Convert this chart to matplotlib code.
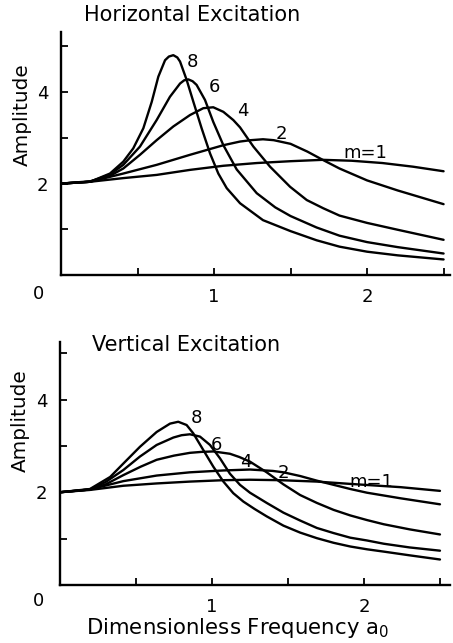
import matplotlib
matplotlib.use("Agg")
import matplotlib.pyplot as plt

# ---------------- data ----------------
# Horizontal excitation: amplitude vs dimensionless frequency a0, for m = 1, 2, 4, 6, 8
h_x1 = [0, 0.19, 0.407, 0.625, 0.843, 1.061, 1.28, 1.5, 1.71, 1.9, 2.1, 2.3, 2.5]
h_y1 = [2.0, 2.04, 2.12, 2.19, 2.30, 2.39, 2.45, 2.49, 2.52, 2.50, 2.45, 2.37, 2.27]

h_x2 = [0, 0.19, 0.407, 0.625, 0.843, 1.061, 1.17, 1.24, 1.32, 1.39, 1.5, 1.61, 1.71,
        1.82, 2.0, 2.2, 2.5]
h_y2 = [2.0, 2.04, 2.22, 2.41, 2.63, 2.84, 2.92, 2.95, 2.97, 2.95, 2.87, 2.70, 2.52,
        2.33, 2.07, 1.85, 1.55]

h_x4 = [0, 0.19, 0.32, 0.407, 0.516, 0.625, 0.734, 0.843, 0.93, 0.995, 1.061, 1.126,
        1.17, 1.257, 1.366, 1.497, 1.606, 1.714, 1.82, 2.0, 2.2, 2.5]
h_y4 = [2.0, 2.05, 2.17, 2.33, 2.63, 2.95, 3.25, 3.50, 3.65, 3.67, 3.57, 3.39,
        3.23, 2.81, 2.37, 1.93, 1.64, 1.46, 1.30, 1.14, 0.99, 0.77]

h_x6 = [0, 0.19, 0.32, 0.407, 0.516, 0.625, 0.712, 0.778, 0.805, 0.832, 0.86, 0.886,
        0.941, 0.995, 1.061, 1.148, 1.279, 1.4, 1.5, 1.67, 1.82, 2.0, 2.2, 2.5]
h_y6 = [2.0, 2.04, 2.20, 2.41, 2.81, 3.39, 3.90, 4.19, 4.26, 4.28, 4.24, 4.16,
        3.83, 3.35, 2.84, 2.31, 1.79, 1.48, 1.29, 1.04, 0.86, 0.72, 0.61, 0.47]

h_x8 = [0, 0.19, 0.32, 0.407, 0.472, 0.538, 0.593, 0.636, 0.68, 0.705, 0.734, 0.76,
        0.778, 0.821, 0.865, 0.919, 0.974, 1.028, 1.083, 1.17, 1.32, 1.5, 1.67, 1.82,
        2.0, 2.2, 2.5]
h_y8 = [2.0, 2.04, 2.22, 2.48, 2.77, 3.21, 3.79, 4.34, 4.70, 4.78, 4.81, 4.76,
        4.67, 4.27, 3.79, 3.21, 2.66, 2.22, 1.90, 1.57, 1.20, 0.96, 0.76, 0.62,
        0.51, 0.43, 0.34]

# Vertical excitation
v_x1 = [0, 0.197, 0.417, 0.636, 0.855, 1.075, 1.25, 1.45, 1.69, 1.91, 2.24, 2.5]
v_y1 = [2.0, 2.05, 2.14, 2.19, 2.23, 2.26, 2.27, 2.26, 2.23, 2.18, 2.11, 2.03]

v_x2 = [0, 0.197, 0.417, 0.636, 0.855, 1.075, 1.25, 1.40, 1.47, 1.58, 1.69, 1.80, 1.91,
        2.02, 2.24, 2.5]
v_y2 = [2.0, 2.06, 2.24, 2.36, 2.43, 2.47, 2.49, 2.46, 2.43, 2.35, 2.25, 2.16, 2.07,
        1.99, 1.87, 1.74]

v_x4 = [0, 0.197, 0.30, 0.417, 0.53, 0.636, 0.75, 0.855, 0.93, 1.009, 1.118, 1.18,
        1.25, 1.36, 1.47, 1.58, 1.69, 1.80, 1.91, 2.02, 2.13, 2.3, 2.5]
v_y4 = [2.0, 2.06, 2.17, 2.37, 2.55, 2.70, 2.79, 2.85, 2.87, 2.88, 2.83, 2.76,
        2.66, 2.43, 2.17, 1.94, 1.77, 1.62, 1.50, 1.40, 1.31, 1.20, 1.09]

v_x6 = [0, 0.197, 0.30, 0.417, 0.526, 0.636, 0.746, 0.80, 0.855, 0.921, 0.987, 1.053,
        1.118, 1.184, 1.25, 1.36, 1.47, 1.58, 1.69, 1.8, 1.91, 2.02, 2.13, 2.3, 2.5]
v_y6 = [2.0, 2.06, 2.22, 2.48, 2.77, 3.02, 3.18, 3.23, 3.25, 3.20, 3.02, 2.73,
        2.40, 2.16, 1.99, 1.77, 1.56, 1.39, 1.23, 1.12, 1.02, 0.96, 0.89, 0.81, 0.74]

v_x8 = [0, 0.197, 0.33, 0.417, 0.526, 0.636, 0.724, 0.778, 0.833, 0.877, 0.943, 1.009,
        1.075, 1.14, 1.206, 1.28, 1.36, 1.47, 1.58, 1.69, 1.8, 1.91, 2.02, 2.13, 2.3,
        2.5]
v_y8 = [2.0, 2.07, 2.33, 2.62, 2.98, 3.30, 3.48, 3.52, 3.45, 3.27, 2.91, 2.55,
        2.23, 1.98, 1.80, 1.64, 1.48, 1.28, 1.13, 1.01, 0.91, 0.83, 0.77, 0.72, 0.64,
        0.55]

curve_labels = ["m=1", "2", "4", "6", "8"]
h_label_x = [1.99, 1.44, 1.19, 1.00, 0.86]
h_label_y = [2.67, 3.09, 3.59, 4.11, 4.66]
v_label_x = [2.05, 1.47, 1.22, 1.03, 0.90]
v_label_y = [2.22, 2.41, 2.65, 3.02, 3.60]

titles = ["Horizontal Excitation", "Vertical Excitation"]
y_title = "Amplitude"
x_title = r"Dimensionless Frequency $\mathregular{a_0}$"
x_ticks = [0.5, 1, 1.5, 2, 2.5]
x_ticklabels = ["", "1", "", "2", ""]
y_ticks = [1, 2, 3, 4, 5]
y_ticklabels = ["", "2", "", "4", ""]

# ---------------- figure ----------------
W, H = 453, 643
fig = plt.figure(figsize=(W / 100, H / 100), dpi=100)
fig.patch.set_facecolor("white")

FONT = "DejaVu Sans"
LW = 1.7


def px_axes(left, right, top, bottom):
    return [left / W, 1 - bottom / H, (right - left) / W, (bottom - top) / H]


ax1 = fig.add_axes(px_axes(61, 450, 32, 275))
ax2 = fig.add_axes(px_axes(60, 450, 342, 585))

panels = [
    (ax1, [(h_x1, h_y1), (h_x2, h_y2), (h_x4, h_y4), (h_x6, h_y6), (h_x8, h_y8)],
     h_label_x, h_label_y, (0, 2.542), (0, 5.317)),
    (ax2, [(v_x1, v_y1), (v_x2, v_y2), (v_x4, v_y4), (v_x6, v_y6), (v_x8, v_y8)],
     v_label_x, v_label_y, (0, 2.566), (0, 5.24)),
]

for ax, series, lx, ly, xl, yl in panels:
    for xs, ys in series:
        ax.plot(xs, ys, color="black", lw=LW, solid_capstyle="round",
                solid_joinstyle="round")
    for t, x, y in zip(curve_labels, lx, ly):
        ax.text(x, y, t, fontsize=13, family=FONT, ha="center", va="center")
    ax.set_xlim(*xl)
    ax.set_ylim(*yl)
    for s in ["top", "right"]:
        ax.spines[s].set_visible(False)
    for s in ["left", "bottom"]:
        ax.spines[s].set_linewidth(LW)
    ax.set_xticks(x_ticks)
    ax.set_xticklabels(x_ticklabels)
    ax.set_yticks(y_ticks)
    ax.set_yticklabels(y_ticklabels)
    ax.tick_params(direction="in", length=5, width=1.3, labelsize=13, pad=9)
    for lab in ax.get_xticklabels() + ax.get_yticklabels():
        lab.set_family(FONT)
    ax.patch.set_alpha(0)

# the "0" at the corner of each panel
fig.text(38 / W, 1 - 294 / H, "0", fontsize=13, family=FONT, ha="center", va="center")
fig.text(39 / W, 1 - 601 / H, "0", fontsize=13, family=FONT, ha="center", va="center")

# titles
fig.text(192 / W, 1 - 15 / H, titles[0], fontsize=15, family=FONT,
         ha="center", va="center")
fig.text(186 / W, 1 - 345 / H, titles[1], fontsize=15, family=FONT,
         ha="center", va="center")

# y labels
fig.text(22 / W, 1 - 115 / H, y_title, fontsize=14.4, family=FONT, rotation=90,
         ha="center", va="center")
fig.text(20 / W, 1 - 421 / H, y_title, fontsize=14.4, family=FONT, rotation=90,
         ha="center", va="center")

# x label
fig.text(238 / W, 1 - 628 / H, x_title, fontsize=15.3, family=FONT,
         ha="center", va="center")

fig.savefig("out.png", dpi=100, facecolor="white")
